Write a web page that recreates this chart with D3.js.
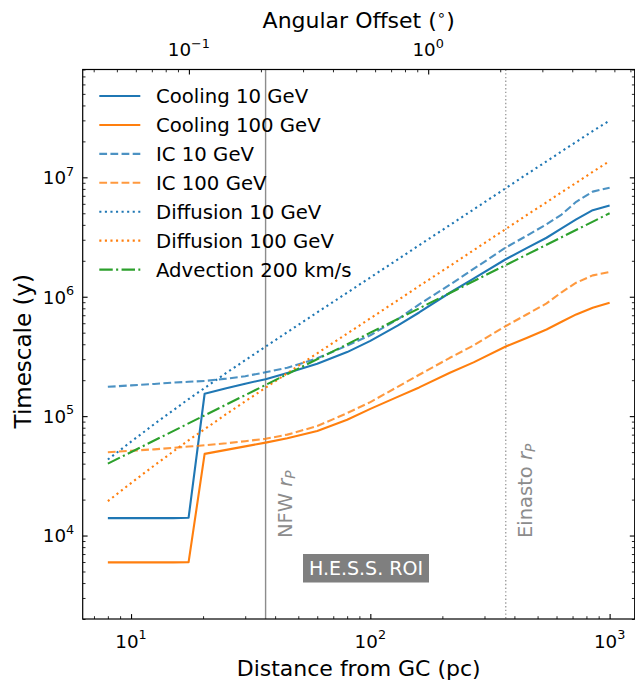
<!DOCTYPE html>
<html>
<head>
<meta charset="utf-8">
<script src="https://cdn.jsdelivr.net/npm/d3@7"></script>
<style>
  html, body { margin: 0; padding: 0; background: #ffffff; }
  svg { display: block; font-family: "DejaVu Sans", sans-serif; }
</style>
</head>
<body>
<svg id="chart" width="635" height="682"></svg>
<script>
// Galactocentric distance grid (pc)
const distancePc = [8, 10, 12.5, 15, 17.4, 20.3, 25, 30, 36.5, 45, 60, 80, 100,
  130, 160, 215, 270, 368, 450, 545, 630, 725, 850, 1000];

// Timescales (years) at each distance
const coolingTenGeV = [1.40e4, 1.40e4, 1.40e4, 1.40e4, 1.41e4, 1.54e5, 1.71e5, 1.87e5,
  2.04e5, 2.30e5, 2.75e5, 3.44e5, 4.27e5, 5.73e5, 7.38e5, 1.08e6, 1.42e6, 2.06e6,
  2.55e6, 3.12e6, 3.73e6, 4.44e6, 5.31e6, 5.82e6];
const coolingHundredGeV = [5.96e3, 5.96e3, 5.96e3, 5.96e3, 5.98e3, 4.83e4, 5.22e4, 5.58e4,
  6.00e4, 6.53e4, 7.50e4, 9.33e4, 1.15e5, 1.45e5, 1.74e5, 2.31e5, 2.82e5, 3.83e5,
  4.52e5, 5.32e5, 6.17e5, 7.11e5, 8.09e5, 8.91e5];
const icTenGeV = [1.76e5, 1.81e5, 1.86e5, 1.91e5, 1.94e5, 1.97e5, 2.06e5, 2.16e5,
  2.33e5, 2.54e5, 3.05e5, 3.90e5, 4.76e5, 6.47e5, 8.63e5, 1.26e6, 1.71e6, 2.58e6,
  3.24e6, 4.04e6, 4.88e6, 6.24e6, 7.59e6, 8.18e6];
const icHundredGeV = [4.99e4, 5.13e4, 5.27e4, 5.43e4, 5.56e4, 5.70e4, 5.92e4, 6.17e4,
  6.46e4, 7.00e4, 8.26e4, 1.06e5, 1.31e5, 1.76e5, 2.22e5, 3.08e5, 3.91e5, 5.68e5,
  7.10e5, 8.79e5, 1.09e6, 1.31e6, 1.51e6, 1.61e6];
const diffusionTenGeV = [4.33e4, 6.11e4, 8.57e4, 1.12e5, 1.39e5, 1.72e5, 2.30e5, 2.94e5,
  3.82e5, 5.05e5, 7.40e5, 1.08e6, 1.45e6, 2.05e6, 2.70e6, 3.98e6, 5.38e6, 8.11e6,
  1.06e7, 1.36e7, 1.65e7, 1.98e7, 2.44e7, 2.99e7];
const diffusionHundredGeV = [1.94e4, 2.75e4, 3.86e4, 5.05e4, 6.28e4, 7.77e4, 1.04e5, 1.33e5,
  1.73e5, 2.29e5, 3.36e5, 4.91e5, 6.59e5, 9.32e5, 1.23e6, 1.81e6, 2.45e6, 3.69e6,
  4.82e6, 6.18e6, 7.50e6, 9.00e6, 1.11e7, 1.37e7];

// Advection at 200 km/s (straight line in log-log)
const advectionDistancePc = [8, 20, 50, 100, 200, 500, 1000];
const advectionTime = [4.0e4, 1.0e5, 2.5e5, 5.0e5, 1.0e6, 2.5e6, 5.0e6];

// Profile scale radii (pc)
const nfwRadiusPc = 36.5;
const einastoRadiusPc = 368;

// Axis limits and ticks
const distanceLimits = [6.28, 1273];
const timescaleLimits = [2e3, 8e7];
const pcPerDegree = 174.5;
const xMajorTicks = [10, 100, 1000];
const xTickExponents = ["1", "2", "3"];
const yMajorTicks = [1e4, 1e5, 1e6, 1e7];
const yTickExponents = ["4", "5", "6", "7"];
const topMajorTicks = [0.1, 1];
const topTickExponents = ["\u22121", "0"];

const seriesNames = ["Cooling 10 GeV", "Cooling 100 GeV", "IC 10 GeV", "IC 100 GeV",
  "Diffusion 10 GeV", "Diffusion 100 GeV", "Advection 200 km/s"];

const blue = "#1f77b4", orange = "#ff7f0e", green = "#2ca02c";
const lw = 2.1;
const dashed = `${3.7 * lw},${1.6 * lw}`;
const dotted = `${1 * lw},${1.65 * lw}`;
const dashDot = `${6.4 * lw},${1.6 * lw},${1 * lw},${1.6 * lw}`;

const series = [
  { name: seriesNames[0], xs: distancePc, ys: coolingTenGeV, color: blue, dash: null, opacity: 1 },
  { name: seriesNames[1], xs: distancePc, ys: coolingHundredGeV, color: orange, dash: null, opacity: 1 },
  { name: seriesNames[2], xs: distancePc, ys: icTenGeV, color: blue, dash: dashed, opacity: 0.8 },
  { name: seriesNames[3], xs: distancePc, ys: icHundredGeV, color: orange, dash: dashed, opacity: 0.8 },
  { name: seriesNames[4], xs: distancePc, ys: diffusionTenGeV, color: blue, dash: dotted, opacity: 1 },
  { name: seriesNames[5], xs: distancePc, ys: diffusionHundredGeV, color: orange, dash: dotted, opacity: 1 },
  { name: seriesNames[6], xs: advectionDistancePc, ys: advectionTime, color: green, dash: dashDot, opacity: 1 }
];

const plot = { left: 82.7, right: 634.7, top: 69.5, bottom: 619 };
const svg = d3.select("#chart");

const x = d3.scaleLog().domain(distanceLimits).range([plot.left, plot.right]);
const y = d3.scaleLog().domain(timescaleLimits).range([plot.bottom, plot.top]);
const xTop = d3.scaleLog()
  .domain(distanceLimits.map(d => d / pcPerDegree))
  .range([plot.left, plot.right]);

// Minor tick positions: 2..9 times each power of ten inside the domain
function minorTicks(scale) {
  const [lo, hi] = scale.domain();
  const out = [];
  for (let e = Math.floor(Math.log10(lo)); e <= Math.ceil(Math.log10(hi)); e++) {
    for (let m = 2; m <= 9; m++) {
      const v = m * Math.pow(10, e);
      if (v >= lo && v <= hi) out.push(v);
    }
  }
  return out;
}

const majorLen = 4.9, minorLen = 2.8;

function drawTicks(axisFn, scale, values, len, width, transform) {
  const g = svg.append("g").attr("transform", transform)
    .call(axisFn(scale).tickValues(values).tickSize(-len).tickFormat(""));
  g.select(".domain").remove();
  g.selectAll(".tick line").attr("stroke", "#000").attr("stroke-width", width);
}

// Bottom
drawTicks(d3.axisBottom, x, xMajorTicks, majorLen, 1.1, `translate(0,${plot.bottom})`);
drawTicks(d3.axisBottom, x, minorTicks(x), minorLen, 0.85, `translate(0,${plot.bottom})`);
// Top (angular offset)
drawTicks(d3.axisTop, xTop, topMajorTicks, majorLen, 1.1, `translate(0,${plot.top})`);
drawTicks(d3.axisTop, xTop, minorTicks(xTop), minorLen, 0.85, `translate(0,${plot.top})`);
// Left and right
drawTicks(d3.axisLeft, y, yMajorTicks, majorLen, 1.1, `translate(${plot.left},0)`);
drawTicks(d3.axisLeft, y, minorTicks(y), minorLen, 0.85, `translate(${plot.left},0)`);
drawTicks(d3.axisRight, y, yMajorTicks, majorLen, 1.1, `translate(${plot.right},0)`);
drawTicks(d3.axisRight, y, minorTicks(y), minorLen, 0.85, `translate(${plot.right},0)`);

// Power-of-ten tick labels
const tickFont = 18.3, supFont = 12.8;
function powerLabel(px, py, exponent, anchor) {
  const t = svg.append("text")
    .attr("x", px).attr("y", py)
    .attr("text-anchor", anchor)
    .attr("font-size", tickFont)
    .attr("fill", "#000");
  t.append("tspan").text("10");
  t.append("tspan").attr("dy", -8.5).attr("font-size", supFont).text(exponent);
}
xMajorTicks.forEach((v, i) => powerLabel(x(v), 647.5, xTickExponents[i], "middle"));
topMajorTicks.forEach((v, i) => powerLabel(xTop(v), 56, topTickExponents[i], "middle"));
yMajorTicks.forEach((v, i) => powerLabel(plot.left - 8.5, y(v) + 6.8, yTickExponents[i], "end"));

// Axis titles
svg.append("text")
  .attr("x", (plot.left + plot.right) / 2).attr("y", 676)
  .attr("text-anchor", "middle").attr("font-size", 22)
  .text("Distance from GC (pc)");
svg.append("text")
  .attr("transform", `translate(30.5,${(plot.top + plot.bottom) / 2 + 7}) rotate(-90)`)
  .attr("text-anchor", "middle").attr("font-size", 23)
  .text("Timescale (y)");
const topTitle = svg.append("text")
  .attr("x", (plot.left + plot.right) / 2).attr("y", 28)
  .attr("text-anchor", "middle").attr("font-size", 22);
topTitle.append("tspan").text("Angular Offset (");
topTitle.append("tspan").attr("font-size", 15).attr("dy", -8).text("\u2218");
topTitle.append("tspan").attr("dy", 8).text(")");

// Profile radius markers
svg.append("line")
  .attr("x1", x(nfwRadiusPc)).attr("x2", x(nfwRadiusPc))
  .attr("y1", plot.top).attr("y2", plot.bottom)
  .attr("stroke", "#8c8c8c").attr("stroke-width", 1.4);
svg.append("line")
  .attr("x1", x(einastoRadiusPc)).attr("x2", x(einastoRadiusPc))
  .attr("y1", plot.top).attr("y2", plot.bottom)
  .attr("stroke", "#a0a0a0").attr("stroke-width", 1.4)
  .attr("stroke-dasharray", "1.4,2.3");

function radiusLabel(r, name) {
  const t = svg.append("text")
    .attr("transform", `translate(${x(r) + 26},538) rotate(-90)`)
    .attr("font-size", 19.5).attr("fill", "#8c8c8c");
  t.append("tspan").text(name + " ");
  t.append("tspan").attr("font-style", "italic").text("r");
  t.append("tspan").attr("font-style", "italic").attr("font-size", 13.6).attr("dy", 3).text("P");
}
radiusLabel(nfwRadiusPc, "NFW");
radiusLabel(einastoRadiusPc, "Einasto");

// Series lines
const line = d3.line().x(d => x(d[0])).y(d => y(d[1]));
series.forEach(s => {
  const pts = s.xs.map((d, i) => [d, s.ys[i]]);
  svg.append("path")
    .datum(pts)
    .attr("d", line)
    .attr("fill", "none")
    .attr("stroke", s.color)
    .attr("stroke-opacity", s.opacity)
    .attr("stroke-width", lw)
    .attr("stroke-linejoin", "round")
    .attr("stroke-dasharray", s.dash);
});

// H.E.S.S. region-of-interest tag
const roi = svg.append("g");
roi.append("rect")
  .attr("x", 303).attr("y", 554).attr("width", 126).attr("height", 28.5)
  .attr("fill", "#7f7f7f");
roi.append("text")
  .attr("x", 366).attr("y", 575)
  .attr("text-anchor", "middle").attr("font-size", 19).attr("fill", "#ffffff")
  .text("H.E.S.S. ROI");

// Legend
const legend = svg.append("g");
series.forEach((s, i) => {
  const cy = 96 + 28.93 * i;
  legend.append("line")
    .attr("x1", 99.3).attr("x2", 140.3).attr("y1", cy).attr("y2", cy)
    .attr("stroke", s.color).attr("stroke-opacity", s.opacity)
    .attr("stroke-width", lw).attr("stroke-dasharray", s.dash);
  legend.append("text")
    .attr("x", 156).attr("y", cy + 7.3)
    .attr("font-size", 19.7).attr("fill", "#000")
    .text(s.name);
});

// Plot frame
svg.append("rect")
  .attr("x", plot.left).attr("y", plot.top)
  .attr("width", plot.right - plot.left).attr("height", plot.bottom - plot.top)
  .attr("fill", "none").attr("stroke", "#000").attr("stroke-width", 1.2);
</script>
</body>
</html>
